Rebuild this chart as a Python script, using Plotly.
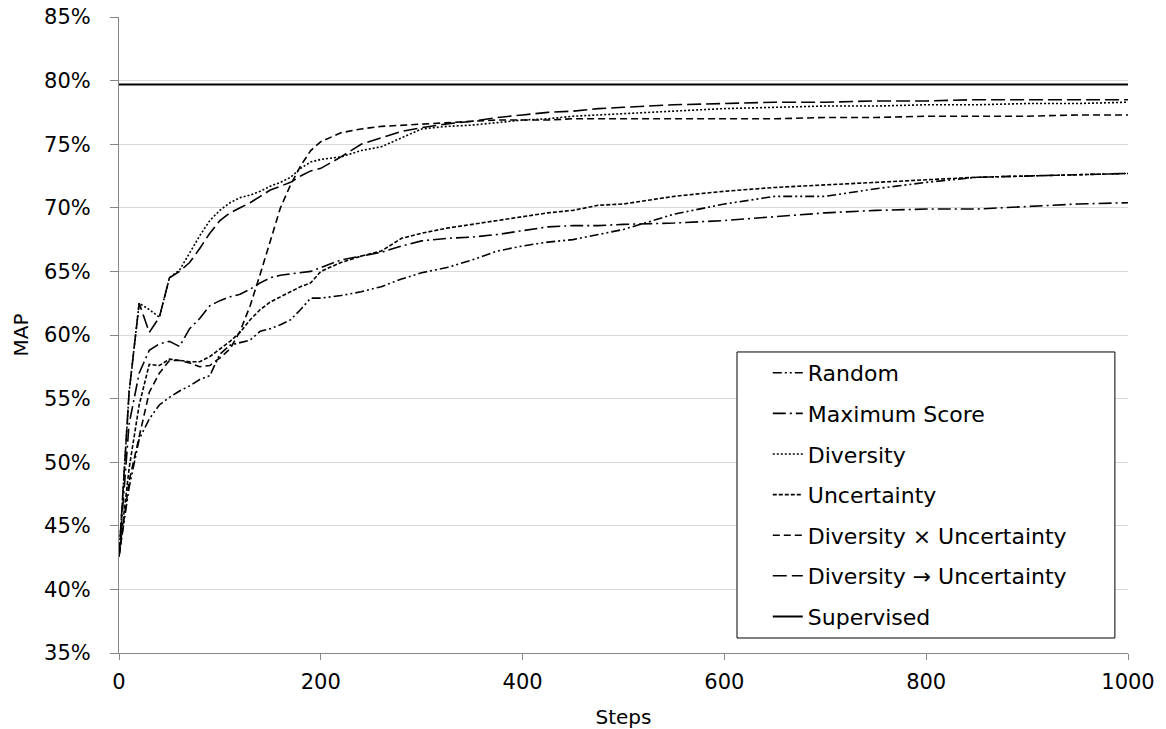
import plotly.graph_objects as go

steps = [0, 10, 20, 30, 40, 50, 60, 70, 80, 90, 100, 110, 120, 130, 140, 150, 160, 170, 180, 190,
         200, 220, 240, 260, 280, 300, 325, 350, 375, 400, 425, 450, 475, 500, 550, 600, 650, 700,
         750, 800, 850, 900, 950, 1000]

random_map = [42.6, 48.0, 51.8, 53.4, 54.5, 55.1, 55.6, 56.0, 56.5, 56.8, 58.5, 59.2, 59.4, 59.6, 60.3,
              60.5, 60.8, 61.2, 62.0, 62.9, 62.9, 63.1, 63.4, 63.8, 64.4, 64.9, 65.3, 65.9, 66.6, 67.0,
              67.3, 67.5, 67.9, 68.3, 69.5, 70.3, 70.9, 70.9, 71.5, 72.0, 72.4, 72.5, 72.6, 72.7]
max_score = [42.6, 53.0, 57.0, 58.8, 59.3, 59.5, 59.1, 60.5, 61.3, 62.3, 62.7, 63.0, 63.2, 63.6, 64.1,
             64.5, 64.7, 64.8, 64.9, 65.0, 65.3, 65.9, 66.2, 66.5, 67.0, 67.4, 67.6, 67.7, 67.9, 68.2,
             68.5, 68.6, 68.6, 68.7, 68.8, 69.0, 69.3, 69.6, 69.8, 69.9, 69.9, 70.1, 70.3, 70.4]
diversity = [42.6, 55.5, 62.5, 62.0, 61.4, 64.5, 65.1, 66.5, 67.8, 69.0, 69.8, 70.4, 70.8, 71.0, 71.3,
             71.7, 72.0, 72.4, 73.1, 73.6, 73.8, 74.0, 74.5, 74.8, 75.5, 76.2, 76.4, 76.5, 76.7, 76.9,
             77.0, 77.2, 77.3, 77.4, 77.6, 77.8, 77.9, 78.0, 78.0, 78.1, 78.1, 78.2, 78.2, 78.3]
uncertainty = [42.6, 49.5, 54.5, 57.7, 57.6, 58.1, 58.0, 57.9, 57.9, 58.3, 58.9, 59.5, 60.2, 61.2, 62.0,
               62.6, 63.0, 63.4, 63.8, 64.1, 65.0, 65.7, 66.2, 66.6, 67.6, 68.0, 68.4, 68.7, 69.0, 69.3,
               69.6, 69.8, 70.2, 70.3, 70.9, 71.3, 71.6, 71.8, 72.0, 72.2, 72.4, 72.5, 72.6, 72.7]
div_x_unc = [42.6, 48.5, 52.0, 55.5, 57.0, 58.0, 58.0, 57.8, 57.5, 57.6, 58.2, 58.9, 60.3, 62.3, 64.8,
             67.5, 70.0, 71.8, 73.3, 74.5, 75.2, 75.9, 76.2, 76.4, 76.5, 76.6, 76.7, 76.8, 76.9, 76.9,
             76.9, 77.0, 77.0, 77.0, 77.0, 77.0, 77.0, 77.1, 77.1, 77.2, 77.2, 77.2, 77.3, 77.3]
div_then_unc = [42.6, 55.5, 62.5, 60.2, 61.4, 64.5, 65.0, 65.7, 66.8, 68.0, 69.0, 69.6, 70.0, 70.4, 70.9,
                71.4, 71.7, 72.0, 72.5, 72.9, 73.1, 74.0, 75.0, 75.5, 76.0, 76.3, 76.6, 76.8, 77.1, 77.3,
                77.5, 77.6, 77.8, 77.9, 78.1, 78.2, 78.3, 78.3, 78.4, 78.4, 78.5, 78.5, 78.5, 78.5]
supervised_steps = [0, 1000]
supervised = [79.7, 79.7]

names = ["Random", "Maximum Score", "Diversity", "Uncertainty",
         "Diversity × Uncertainty", "Diversity → Uncertainty", "Supervised"]
series = [random_map, max_score, diversity, uncertainty, div_x_unc, div_then_unc]
dashes = ["9px,3px,2px,3px,2px,3px", "13px,4px,2px,4px", "2px,2px", "4px,2px",
          "7px,4px", "14px,5px"]

fig = go.Figure()
for i, (nm, ys, ds) in enumerate(zip(names[:6], series, dashes)):
    fig.add_trace(go.Scatter(
        x=steps, y=[v / 100 for v in ys], mode="lines", name=nm,
        legendgroup=f"g{i}",
        line=dict(color="black", width=1.6, dash=ds),
    ))
fig.add_trace(go.Scatter(
    x=supervised_steps, y=[v / 100 for v in supervised], mode="lines", name=names[6],
    legendgroup="g6", line=dict(color="black", width=2),
))

# legend frame (drawn as a shape so it can be wider than the legend's own box)
fig.add_shape(
    type="rect", xref="paper", yref="paper",
    x0=0.6125, x1=0.987, y0=0.0236, y1=0.4733,
    line=dict(color="black", width=1), fillcolor="white", layer="above",
)

font = dict(family="DejaVu Sans", size=20, color="black")
fig.update_layout(
    width=1166, height=729,
    margin=dict(l=119, r=38, t=17, b=76, autoexpand=False),
    paper_bgcolor="white", plot_bgcolor="white",
    font=font,
    showlegend=True,
    legend=dict(
        x=0.643, y=0.4733, xanchor="left", yanchor="top",
        borderwidth=0, bgcolor="rgba(0,0,0,0)",
        font=dict(family="DejaVu Sans", size=22, color="black"),
        tracegroupgap=9, traceorder="grouped",
    ),
    xaxis=dict(
        range=[0, 1000], tick0=0, dtick=200, showgrid=False, zeroline=False,
        showline=True, linecolor="#868686", linewidth=1,
        ticks="outside", ticklen=6, tickcolor="#868686",
        title=dict(text="Steps", font=dict(size=20), standoff=20),
        tickfont=dict(size=21), automargin=False,
        ticklabelstandoff=4,
    ),
    yaxis=dict(
        range=[0.35, 0.85], tick0=0.35, dtick=0.05, tickformat=".0%",
        showgrid=True, gridcolor="#d9d9d9", gridwidth=1, zeroline=False,
        showline=True, linecolor="#868686", linewidth=1,
        ticks="outside", ticklen=8, tickcolor="#868686",
        title=dict(text="MAP", font=dict(size=20), standoff=10),
        tickfont=dict(size=21), automargin=False,
        ticklabelstandoff=15,
    ),
)

fig.write_html("out.html")
